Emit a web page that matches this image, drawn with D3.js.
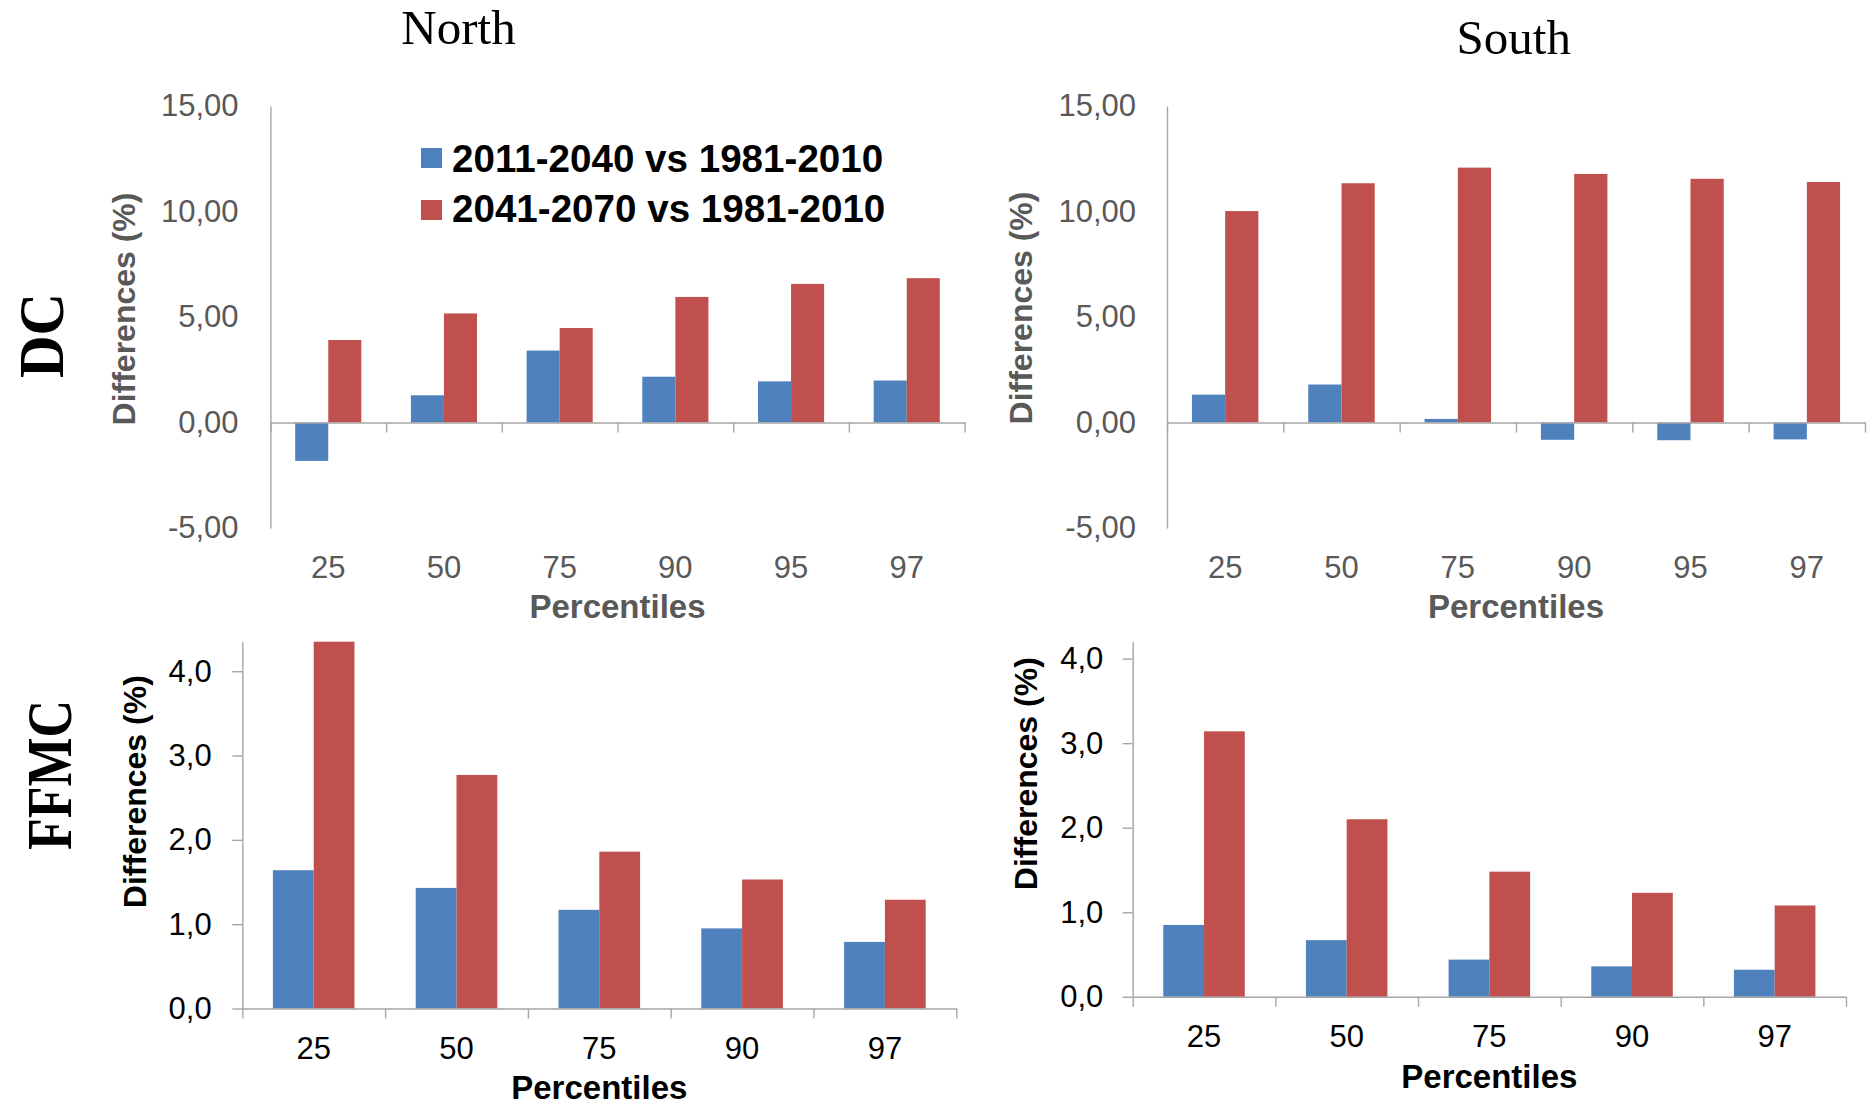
<!DOCTYPE html>
<html><head><meta charset="utf-8">
<script src="https://cdn.jsdelivr.net/npm/d3@7"></script>
<style>html,body{margin:0;padding:0;background:#fff;} svg{display:block;}</style>
</head><body>
<svg id="chart" width="1874" height="1110"></svg>
<script>
// ---------------- data ----------------
const dcPercentiles = ["25", "50", "75", "90", "95", "97"];
const ffmcPercentiles = ["25", "50", "75", "90", "97"];
const seriesNames = ["2011-2040 vs 1981-2010", "2041-2070 vs 1981-2010"];
const dcNorth2011 = [-1.82, 1.29, 3.41, 2.17, 1.95, 1.99];
const dcNorth2041 = [3.91, 5.17, 4.48, 5.95, 6.57, 6.84];
const dcSouth2011 = [1.32, 1.80, 0.17, -0.82, -0.84, -0.80];
const dcSouth2041 = [10.02, 11.34, 12.08, 11.78, 11.55, 11.40];
const ffmcNorth2011 = [1.64, 1.43, 1.17, 0.95, 0.79];
const ffmcNorth2041 = [4.35, 2.77, 1.86, 1.53, 1.29];
const ffmcSouth2011 = [0.85, 0.67, 0.44, 0.36, 0.32];
const ffmcSouth2041 = [3.14, 2.10, 1.48, 1.23, 1.08];
const dcTicks = [-5, 0, 5, 10, 15];
const ffmcTicks = [0, 1, 2, 3, 4];
const dcDomain = [-5, 15];
const ffmcNorthDomain = [0, 4.35];
const ffmcSouthDomain = [0, 4.2];
const regionTitles = ["North", "South"];
const indexTitles = ["DC", "FFMC"];
const yTitle = "Differences (%)";
const xTitle = "Percentiles";

// ---------------- styling ----------------
const colors = ["#4F81BD", "#C0504D"];
const sans = "'Liberation Sans', Arial, sans-serif";
const serif = "'Liberation Serif', 'Times New Roman', serif";
const axisColor = "#a6a6a6";

const locale = d3.formatLocale({decimal: ",", thousands: ".", grouping: [3], currency: ["", ""], minus: "-"});

const panels = [
  {cats: dcPercentiles, s: [dcNorth2011, dcNorth2041], ticks: dcTicks, domain: dcDomain, fmt: locale.format(".2f"),
   x0: 270.4, x1: 964.6, yTop: 106, yBot: 528, tickSize: 0, pad: 31.8, color: "#595959",
   xLab: 578, xTit: 618.3, yTitX: 135, yTitY: 309},
  {cats: dcPercentiles, s: [dcSouth2011, dcSouth2041], ticks: dcTicks, domain: dcDomain, fmt: locale.format(".2f"),
   x0: 1167, x1: 1865, yTop: 106, yBot: 528, tickSize: 0, pad: 31, color: "#595959",
   xLab: 578, xTit: 618.3, yTitX: 1031.7, yTitY: 308},
  {cats: ffmcPercentiles, s: [ffmcNorth2011, ffmcNorth2041], ticks: ffmcTicks, domain: ffmcNorthDomain, fmt: locale.format(".1f"),
   x0: 242.3, x1: 956.3, yTop: 641.7, yBot: 1008.5, tickSize: 10, pad: 20.6, color: "#000",
   xLab: 1058.8, xTit: 1099.2, yTitX: 146, yTitY: 791.7},
  {cats: ffmcPercentiles, s: [ffmcSouth2011, ffmcSouth2041], ticks: ffmcTicks, domain: ffmcSouthDomain, fmt: locale.format(".1f"),
   x0: 1132.7, x1: 1846, yTop: 641.7, yBot: 996.8, tickSize: 10, pad: 19.4, color: "#000",
   xLab: 1047.3, xTit: 1087.7, yTitX: 1036.7, yTitY: 773.7}
];

const svg = d3.select("#chart");
svg.append("rect").attr("width", 1874).attr("height", 1110).attr("fill", "#fff");

panels.forEach(p => {
  const g = svg.append("g");
  const x = d3.scaleBand().domain(p.cats).range([p.x0, p.x1]).paddingInner(0).paddingOuter(0);
  const W = x.bandwidth();
  const xs = d3.scaleBand().domain([0, 1]).range([W * 0.75 / 3.5, W - W * 0.75 / 3.5]);
  const y = d3.scaleLinear().domain(p.domain).range([p.yBot, p.yTop]);

  // bars
  p.s.forEach((vals, si) => {
    g.append("g").selectAll("rect").data(vals).join("rect")
      .attr("x", (d, i) => x(p.cats[i]) + xs(si))
      .attr("width", xs.bandwidth())
      .attr("y", d => Math.min(y(0), y(d)))
      .attr("height", d => Math.abs(y(d) - y(0)))
      .attr("fill", colors[si]);
  });

  // y axis
  const ya = g.append("g").attr("transform", `translate(${p.x0},0)`)
    .call(d3.axisLeft(y).tickValues(p.ticks).tickFormat(p.fmt).tickSize(p.tickSize).tickSizeOuter(0).tickPadding(p.pad));
  ya.select(".domain").attr("stroke", axisColor).attr("stroke-width", 1.4);
  ya.selectAll(".tick line").attr("stroke", axisColor).attr("stroke-width", 1.4);
  ya.selectAll(".tick text").attr("font-family", sans).attr("font-size", 31).attr("fill", p.color);

  // x axis (category boundaries)
  const xi = d3.scaleLinear().domain([0, p.cats.length]).range([p.x0, p.x1]);
  const xa = g.append("g").attr("transform", `translate(0,${y(0)})`)
    .call(d3.axisBottom(xi).tickValues(d3.range(p.cats.length + 1)).tickFormat("").tickSize(10).tickSizeOuter(0));
  xa.select(".domain").attr("stroke", axisColor).attr("stroke-width", 1.4);
  xa.selectAll(".tick line").attr("stroke", axisColor).attr("stroke-width", 1.4);

  // category labels
  g.append("g").selectAll("text").data(p.cats).join("text")
    .attr("x", d => x(d) + W / 2).attr("y", p.xLab)
    .attr("text-anchor", "middle").attr("font-family", sans).attr("font-size", 31)
    .attr("fill", p.color).text(d => d);

  // axis titles
  g.append("text").attr("x", (p.x0 + p.x1) / 2).attr("y", p.xTit)
    .attr("text-anchor", "middle").attr("font-family", sans).attr("font-size", 33)
    .attr("font-weight", "bold").attr("fill", p.color).text(xTitle);
  g.append("text").attr("transform", `translate(${p.yTitX},${p.yTitY}) rotate(-90)`)
    .attr("text-anchor", "middle").attr("font-family", sans).attr("font-size", 32)
    .attr("font-weight", "bold").attr("fill", p.color).text(yTitle);
});

// region titles
svg.append("text").attr("x", 458.5).attr("y", 43.6).attr("text-anchor", "middle")
  .attr("font-family", serif).attr("font-size", 49).attr("fill", "#000").text(regionTitles[0]);
svg.append("text").attr("x", 1513.8).attr("y", 54).attr("text-anchor", "middle")
  .attr("font-family", serif).attr("font-size", 49).attr("fill", "#000").text(regionTitles[1]);

// index titles (rotated)
svg.append("text").attr("transform", "translate(62.5,335.5) rotate(-90)").attr("text-anchor", "middle")
  .attr("font-family", serif).attr("font-weight", "bold").attr("font-size", 64)
  .attr("textLength", 85).attr("lengthAdjust", "spacingAndGlyphs").attr("fill", "#000").text(indexTitles[0]);
svg.append("text").attr("transform", "translate(70.7,775) rotate(-90)").attr("text-anchor", "middle")
  .attr("font-family", serif).attr("font-weight", "bold").attr("font-size", 64)
  .attr("textLength", 150).attr("lengthAdjust", "spacingAndGlyphs").attr("fill", "#000").text(indexTitles[1]);

// legend
const lg = svg.append("g");
seriesNames.forEach((name, i) => {
  lg.append("rect").attr("x", 421).attr("y", 148 + i * 52).attr("width", 21).attr("height", 20).attr("fill", colors[i]);
  lg.append("text").attr("x", 452).attr("y", 171.7 + i * 50).attr("font-family", sans)
    .attr("font-weight", "bold").attr("font-size", 38.6).attr("fill", "#000").text(name);
});
</script>
</body></html>
